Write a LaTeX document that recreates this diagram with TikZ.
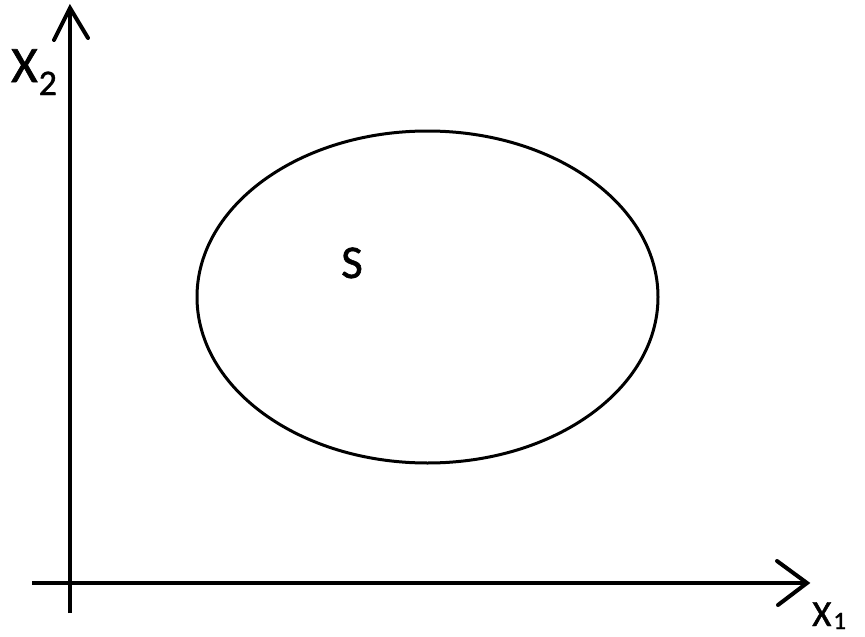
\documentclass[tikz,border=0pt]{standalone}
\usepackage{fontspec}
\setmainfont{Carlito}[FakeBold=1.2]
\usetikzlibrary{shapes.geometric}
\newcommand{\mysub}[3]{\raisebox{-#2pt}{\fontsize{#1}{#1}\selectfont #3}}
\begin{document}
\begin{tikzpicture}[x=1pt,y=-1pt,
  axis/.style={line width=4pt},
  vtip/.style={line width=4pt, line cap=round, line join=miter},
  lbl/.style={inner sep=0pt, anchor=base west}]
\useasboundingbox (0,0) rectangle (865,637);
% axes
\coordinate (ytop) at (70,8);
\coordinate (ybot) at (70,613);
\coordinate (xleft) at (32,583);
\coordinate (xright) at (807,583);
\draw[axis] (ybot) -- (ytop);
\draw[axis] (xleft) -- (xright);
\draw[vtip] (54,40) -- (ytop) -- (88,38);
\draw[vtip] (777,561) -- (xright) -- (778,605);
% set
\node[draw, ellipse, line width=3pt, minimum width=461pt, minimum height=332pt, inner sep=0pt] (S) at (427.5,297) {};
\node[lbl, font=\fontsize{47}{47}\selectfont] (slabel) at (341,278) {S};
% labels
\node[lbl, font=\fontsize{51}{51}\selectfont] (x2) at (11,82) {X\kern1pt\mysub{36}{13}{2}};
\node[lbl, font=\fontsize{37}{37}\selectfont] (x1) at (812,626) {X\kern2pt\mysub{25}{3}{1}};
\end{tikzpicture}
\end{document}
